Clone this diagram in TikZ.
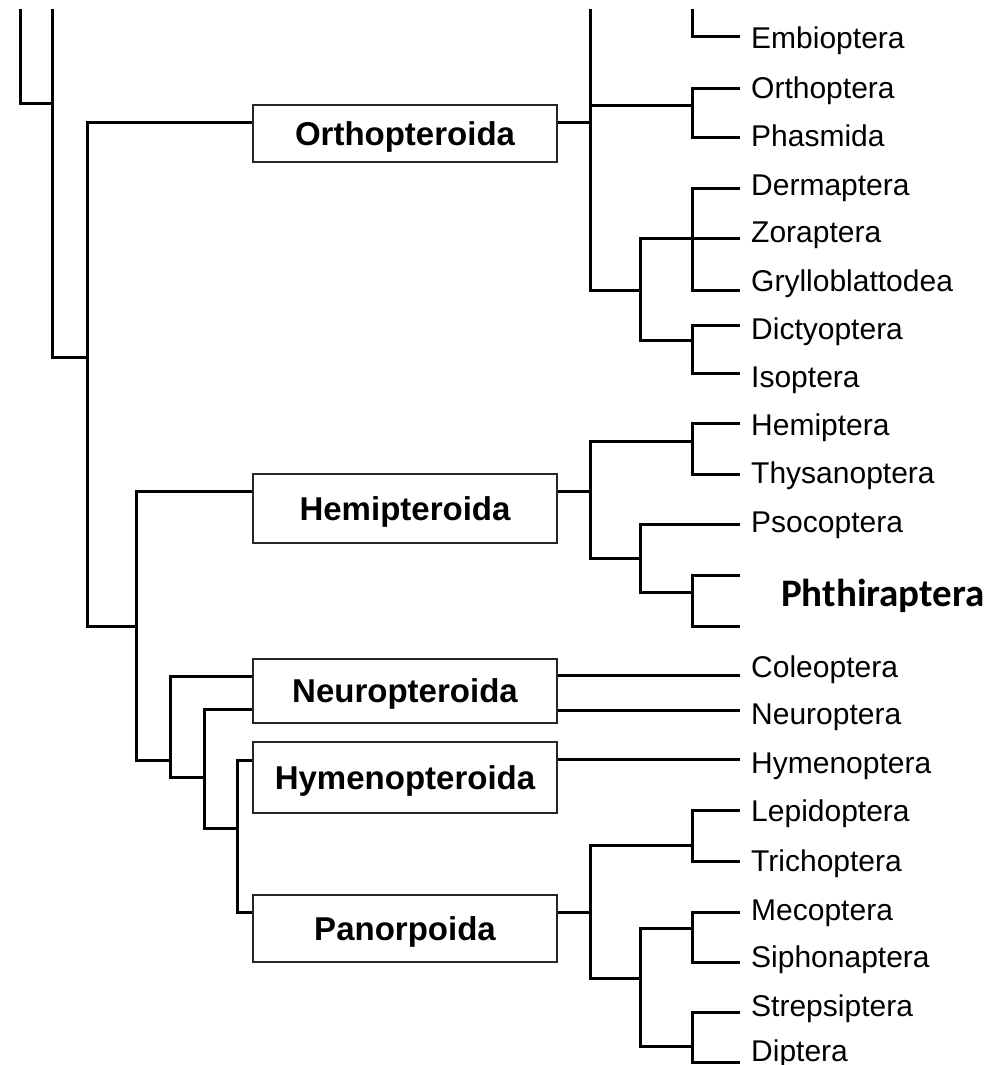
\documentclass[tikz,border=0pt]{standalone}
\usepackage{fontspec}
\setmainfont{Liberation Sans}
\newfontfamily\calibfont{Carlito}
\begin{document}
\begin{tikzpicture}[x=1pt,y=-1pt,
  br/.style={line width=3pt,line join=miter,black},
  grp/.style={draw=black!85,line width=2pt,fill=white,inner sep=0pt,minimum width=304pt,
    font=\fontsize{33}{33}\selectfont\bfseries,text height=23.6pt,text depth=0pt},
  leaf/.style={anchor=west,inner sep=0pt,font=\fontsize{30}{30}\selectfont,text height=21.5pt,text depth=0pt}]
\useasboundingbox[fill=white] (0,0) rectangle (1006,1065);
% group boxes
\node[grp,minimum height=57pt] (orth) at (405,133.5) {Orthopteroida};
\node[grp,minimum height=69pt] (hemi) at (405,508.5) {Hemipteroida};
\node[grp,minimum height=64pt] (neuro) at (405,691) {Neuropteroida};
\node[grp,minimum height=71pt] (hymeno) at (405,777.5) {Hymenopteroida};
\node[grp,minimum height=67pt] (panorp) at (405,928.5) {Panorpoida};
% leaf labels
\node[leaf] (lEmb) at (751,38) {Embioptera};
\node[leaf] (lOrt) at (751,87.5) {Orthoptera};
\node[leaf] (lPha) at (751,136) {Phasmida};
\node[leaf] (lDer) at (751,184.5) {Dermaptera};
\node[leaf] (lZor) at (751,232) {Zoraptera};
\node[leaf] (lGry) at (751,280.5) {Grylloblattodea};
\node[leaf] (lDic) at (751,328.5) {Dictyoptera};
\node[leaf] (lIso) at (751,377) {Isoptera};
\node[leaf] (lHem) at (751,425) {Hemiptera};
\node[leaf] (lThy) at (751,472.5) {Thysanoptera};
\node[leaf] (lPso) at (751,522) {Psocoptera};
\node[anchor=base west,inner sep=0pt,font=\calibfont\fontsize{39}{39}\selectfont\bfseries] (lPht) at (781,606) {Phthiraptera};
\node[leaf] (lCol) at (751,667) {Coleoptera};
\node[leaf] (lNeu) at (751,714) {Neuroptera};
\node[leaf] (lHym) at (751,763) {Hymenoptera};
\node[leaf] (lLep) at (751,811) {Lepidoptera};
\node[leaf] (lTri) at (751,861) {Trichoptera};
\node[leaf] (lMec) at (751,910) {Mecoptera};
\node[leaf] (lSip) at (751,957) {Siphonaptera};
\node[leaf] (lStr) at (751,1006) {Strepsiptera};
\node[leaf] (lDip) at (751,1051) {Diptera};
% leaf tips
\coordinate (tEmb) at (740,37);
\coordinate (tOrt) at (740,88);
\coordinate (tPha) at (740,137);
\coordinate (tDer) at (740,188);
\coordinate (tZor) at (740,238);
\coordinate (tGry) at (740,290);
\coordinate (tDic) at (740,325);
\coordinate (tIso) at (740,373);
\coordinate (tHem) at (740,423);
\coordinate (tThy) at (740,474);
\coordinate (tPso) at (740,524);
\coordinate (tPh1) at (740,575);
\coordinate (tPh2) at (740,626);
\coordinate (tCol) at (740,675);
\coordinate (tNeu) at (740,710);
\coordinate (tHym) at (740,759);
\coordinate (tLep) at (740,810);
\coordinate (tTri) at (740,861);
\coordinate (tMec) at (740,912);
\coordinate (tSip) at (740,962);
\coordinate (tStr) at (740,1012);
\coordinate (tDip) at (740,1062);
% internal junctions, left side
\coordinate (r0) at (20,9);
\coordinate (r1) at (52,103);
\coordinate (r1top) at (52,9);
\coordinate (k1) at (87,357);
\coordinate (k2) at (136,626);
\coordinate (k3) at (170,760);
\coordinate (k4) at (204,777);
\coordinate (k5) at (237,828);
% internal junctions, right side
\coordinate (oTop) at (590,9);
\coordinate (oR) at (590,122);
\coordinate (eTop) at (692,9);
\coordinate (kOP) at (692,105);
\coordinate (kDI) at (640,290);
\coordinate (kDZG) at (692,238);
\coordinate (kDIs) at (692,340);
\coordinate (hR) at (590,491);
\coordinate (kHT) at (692,441);
\coordinate (kPP) at (640,558);
\coordinate (kPh) at (692,592);
\coordinate (pR) at (590,912);
\coordinate (kLT) at (692,845);
\coordinate (kMSD) at (640,978);
\coordinate (kMS) at (692,928);
\coordinate (kSD) at (692,1046);
% left side tree
\draw[br] (r0) |- (r1);
\draw[br] (r1top) |- (k1);
\draw[br] (orth.west |- 0,122) -| (k1) |- (k2);
\draw[br] (hemi.west |- 0,491) -| (k2) |- (k3);
\draw[br] (neuro.west |- 0,676) -| (k3) |- (k4);
\draw[br] (neuro.west |- 0,709) -| (k4) |- (k5);
\draw[br] (hymeno.west |- 0,760) -| (k5) |- (panorp.west |- pR);
% Orthopteroida
\draw[br] (orth.east |- oR) -- (oR);
\draw[br] (oTop) |- (kDI);
\draw[br] (oR) |- (kOP);
\draw[br] (eTop) |- (tEmb);
\draw[br] (tOrt) -| (kOP) |- (tPha);
\draw[br] (tZor) -| (kDI) |- (kDIs);
\draw[br] (tDer) -| (kDZG) |- (tGry);
\draw[br] (tDic) -| (kDIs) |- (tIso);
% Hemipteroida
\draw[br] (hemi.east |- hR) -- (hR);
\draw[br] (kHT) -| (hR) |- (kPP);
\draw[br] (tHem) -| (kHT) |- (tThy);
\draw[br] (tPso) -| (kPP) |- (kPh);
\draw[br] (tPh1) -| (kPh) |- (tPh2);
% Neuropteroida, Hymenopteroida
\draw[br] (neuro.east |- tCol) -- (tCol);
\draw[br] (neuro.east |- tNeu) -- (tNeu);
\draw[br] (hymeno.east |- tHym) -- (tHym);
% Panorpoida
\draw[br] (panorp.east |- pR) -- (pR);
\draw[br] (kLT) -| (pR) |- (kMSD);
\draw[br] (tLep) -| (kLT) |- (tTri);
\draw[br] (kMS) -| (kMSD) |- (kSD);
\draw[br] (tMec) -| (kMS) |- (tSip);
\draw[br] (tStr) -| (kSD) |- (tDip);
\end{tikzpicture}
\end{document}
